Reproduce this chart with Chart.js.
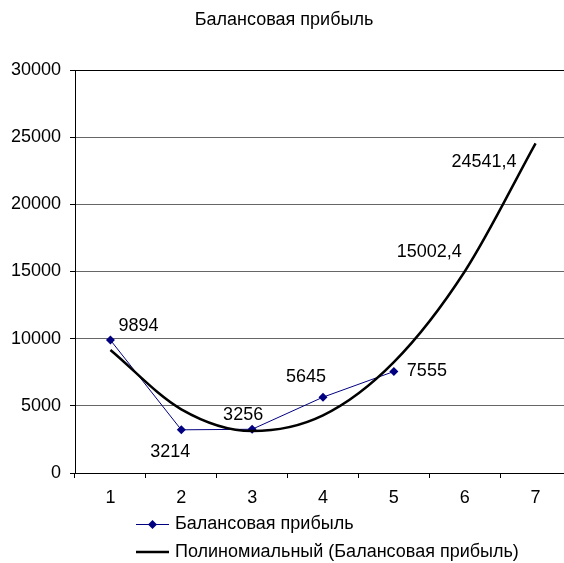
<!DOCTYPE html>
<html>
<head>
<meta charset="utf-8">
<script src="https://cdn.jsdelivr.net/npm/chart.js@4/dist/chart.umd.min.js"></script>
<style>
  html, body { margin: 0; padding: 0; background: #fff; overflow: hidden; }
  #wrap { width: 564px; height: 563px; overflow: hidden; }
</style>
</head>
<body>
<div id="wrap"><canvas id="c" width="580" height="563"></canvas></div>
<script>
// Periods and balance profit values
const categories = ['1', '2', '3', '4', '5', '6', '7'];
const profit = [9894, 3214, 3256, 5645, 7555, null, null];
// Second-order polynomial trend of the profit series, with its forecast for periods 6 and 7
const trend = [9151.8, 4742.7, 3123.2, 4293.3, 8253.0, 15002.4, 24541.4];
const trendLabelIdx = [5, 6];
const yTicks = [0, 5000, 10000, 15000, 20000, 25000, 30000];

const chartTitle = 'Балансовая прибыль';
const profitName = 'Балансовая прибыль';
const trendName = 'Полиномиальный (Балансовая прибыль)';

const FONT = "'Liberation Sans', Arial, sans-serif";
const NAVY = '#000080';

// label placement relative to each point: [dx, dy, align]
const profitLabelPos = [[8, -14, 'left'], [-11, 22, 'center'], [-9, -14, 'center'], [-17, -20, 'center'], [13, 0, 'left']];
const trendLabelPos = { 5: [-3, -19, 'right'], 6: [-19, 19, 'right'] };

const fmt = v => String(v).replace('.', ',');

const decor = {
  id: 'decor',
  afterDatasetsDraw(chart) {
    const ctx = chart.ctx;
    ctx.save();
    ctx.fillStyle = '#000';
    ctx.font = '18px ' + FONT;
    ctx.textBaseline = 'middle';

    // value labels on the profit points
    const m0 = chart.getDatasetMeta(0);
    m0.data.forEach((pt, i) => {
      if (profit[i] == null) return;
      const p = profitLabelPos[i];
      ctx.textAlign = p[2];
      ctx.fillText(String(profit[i]), pt.x + p[0], pt.y + p[1]);
    });

    // forecast values on the trend line
    const m1 = chart.getDatasetMeta(1);
    trendLabelIdx.forEach(i => {
      const pt = m1.data[i];
      const p = trendLabelPos[i];
      ctx.textAlign = p[2];
      ctx.fillText(fmt(trend[i]), pt.x + p[0], pt.y + p[1]);
    });

    // title
    ctx.textAlign = 'center';
    ctx.fillText(chartTitle, 284, 20);

    // legend
    const lx = 136, rows = [524, 552];
    ctx.textAlign = 'left';
    ctx.strokeStyle = NAVY;
    ctx.lineWidth = 1;
    ctx.beginPath();
    ctx.moveTo(lx, rows[0] + 0.5);
    ctx.lineTo(lx + 33, rows[0] + 0.5);
    ctx.stroke();
    ctx.fillStyle = NAVY;
    ctx.beginPath();
    const cx = lx + 16.5, cy = rows[0] + 0.5, r = 4.5;
    ctx.moveTo(cx, cy - r); ctx.lineTo(cx + r, cy); ctx.lineTo(cx, cy + r); ctx.lineTo(cx - r, cy);
    ctx.closePath();
    ctx.fill();
    ctx.fillStyle = '#000';
    ctx.fillText(chart.data.datasets[0].label, lx + 39, rows[0]);

    ctx.strokeStyle = '#000';
    ctx.lineWidth = 2.5;
    ctx.beginPath();
    ctx.moveTo(lx, rows[1]);
    ctx.lineTo(lx + 33, rows[1]);
    ctx.stroke();
    ctx.fillText(chart.data.datasets[1].label, lx + 39, rows[1]);
    ctx.restore();
  }
};

new Chart(document.getElementById('c'), {
  type: 'line',
  data: {
    labels: categories,
    datasets: [
      {
        label: profitName,
        data: profit,
        borderColor: NAVY,
        backgroundColor: NAVY,
        borderWidth: 1,
        pointStyle: 'rectRot',
        pointRadius: 4.5,
        pointBackgroundColor: NAVY,
        pointBorderColor: NAVY,
        pointBorderWidth: 0,
        tension: 0,
        order: 1
      },
      {
        label: trendName,
        data: trend,
        borderColor: '#000',
        borderWidth: 2.5,
        pointRadius: 0,
        cubicInterpolationMode: 'monotone',
        order: 0
      }
    ]
  },
  options: {
    responsive: false,
    animation: false,
    devicePixelRatio: 1,
    layout: { padding: { top: 70, left: 0, right: 9, bottom: 50 } },
    plugins: { legend: { display: false }, title: { display: false }, tooltip: { enabled: false } },
    scales: {
      x: {
        type: 'category',
        offset: true,
        afterFit(s) { s.height = 40; },
        grid: { offset: true, drawOnChartArea: false, drawTicks: true, tickLength: 5, tickColor: '#000' },
        border: { color: '#000', width: 1 },
        ticks: { color: '#000', font: { family: FONT, size: 18 }, padding: 9, maxRotation: 0 }
      },
      y: {
        min: yTicks[0],
        max: yTicks[yTicks.length - 1],
        afterBuildTicks(s) { s.ticks = yTicks.map(v => ({ value: v })); },
        afterFit(s) { s.width = 75; },
        grid: {
          color: ctx => (ctx.tick && ctx.tick.value === yTicks[yTicks.length - 1]) ? '#000' : '#666',
          tickColor: '#000',
          tickLength: 5,
          lineWidth: 1
        },
        border: { color: '#000', width: 1 },
        ticks: {
          color: '#000',
          font: { family: FONT, size: 18 },
          padding: 9,
          callback: v => String(v)
        }
      }
    }
  },
  plugins: [decor]
});
</script>
</body>
</html>
